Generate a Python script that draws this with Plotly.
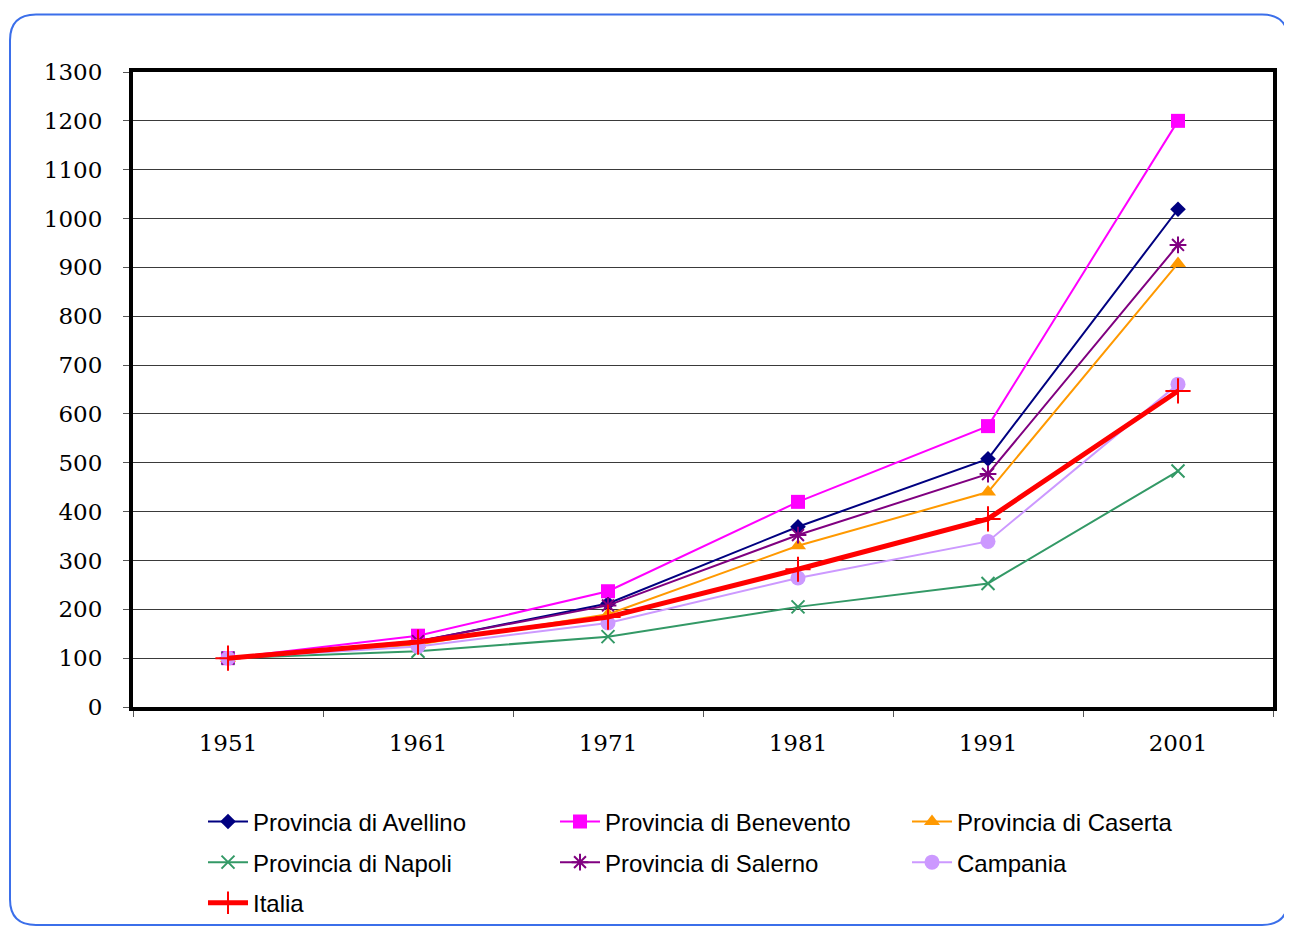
import plotly.graph_objects as go

years = ["1951", "1961", "1971", "1981", "1991", "2001"]
avellino = [100, 134, 212, 369, 508, 1019]
benevento = [100, 146, 237, 420, 575, 1200]
caserta = [100, 128, 190, 330, 440, 908]
napoli = [100, 114, 144, 205, 253, 483]
salerno = [100, 135, 208, 352, 477, 946]
campania = [100, 124, 172, 264, 339, 661]
italia = [100, 133, 184, 282, 385, 647]
y_ticks = list(range(0, 1301, 100))

series = [
    ("Provincia di Avellino", avellino, "#000080", "diamond", 12, 2, "legend"),
    ("Provincia di Benevento", benevento, "#FF00FF", "square", 14, 2, "legend"),
    ("Provincia di Caserta", caserta, "#FF9900", "triangle-up", 14, 2, "legend"),
    ("Provincia di Napoli", napoli, "#339966", "x-thin", 13, 2, "legend2"),
    ("Provincia di Salerno", salerno, "#800080", "asterisk", 14, 2, "legend2"),
    ("Campania", campania, "#CC99FF", "circle", 15, 2, "legend2"),
    ("Italia", italia, "#FF0000", "cross-thin", 18, 5, "legend3"),
]

fig = go.Figure()
for name, vals, color, sym, size, lw, leg in series:
    thin = sym.endswith("-thin") or sym == "asterisk"
    fig.add_trace(go.Scatter(
        x=years, y=vals, name=name, mode="lines+markers",
        line=dict(color=color, width=lw),
        marker=dict(symbol=sym, size=size, color=color,
                    line=dict(color=color, width=2 if thin else 0)),
        legend=leg,
    ))

OFF = 8  # page body margin
W, H = 1292 - OFF, 937 - OFF
# plot area in reference screenshot pixels: x 133..1273, y 72..713
L, T = 133 - OFF, 72 - OFF
R = W - (1273 - OFF)
B = H - (713 - OFF)
pw, ph = W - L - R, H - T - B

def px(x):
    return (x - OFF - L) / pw

def py(y):
    return (H - B - (y - OFF)) / ph

# rounded outer border (paper coords), given in reference pixels
x0, x1, y0, y1, r = 10, 1288, 14, 933, 26
path = (f"M {px(x0)},{py(y0 + r)} "
        f"Q {px(x0)},{py(y0)} {px(x0 + r)},{py(y0)} "
        f"L {px(x1 - r)},{py(y0)} "
        f"Q {px(x1)},{py(y0)} {px(x1)},{py(y0 + r)} "
        f"L {px(x1)},{py(y1 - r)} "
        f"Q {px(x1)},{py(y1)} {px(x1 - r)},{py(y1)} "
        f"L {px(x0 + r)},{py(y1)} "
        f"Q {px(x0)},{py(y1)} {px(x0)},{py(y1 - r)} Z")

legend_common = dict(
    orientation="h", xanchor="left", yanchor="middle",
    font=dict(family="Liberation Sans, Arial, sans-serif", size=24, color="#000"),
    entrywidth=297, entrywidthmode="pixels", bgcolor="rgba(0,0,0,0)",
    itemwidth=40, traceorder="normal",
)

fig.update_layout(
    width=W, height=H,
    margin=dict(l=L, r=R, t=T, b=B),
    paper_bgcolor="white", plot_bgcolor="white",
    showlegend=True,
    legend=dict(x=px(203), y=py(829), **legend_common),
    legend2=dict(x=px(203), y=py(870), **legend_common),
    legend3=dict(x=px(203), y=py(911), **legend_common),
    shapes=[dict(type="path", xref="paper", yref="paper", path=path,
                 line=dict(color="#3B6FEA", width=2), fillcolor="rgba(0,0,0,0)",
                 layer="below")],
    xaxis=dict(
        type="category", range=[-0.5, 5.5], tickson="boundaries",
        ticks="outside", ticklen=6, tickcolor="#555", tickwidth=1,
        showline=True, linecolor="black", linewidth=4, mirror=True,
        showgrid=False, zeroline=False,
        tickfont=dict(family="DejaVu Serif, serif", size=23, color="#000"),
        ticklabelstandoff=12,
    ),
    yaxis=dict(
        range=[0, 1300], tickvals=y_ticks, ticktext=[str(v) for v in y_ticks],
        ticks="outside", ticklen=6, tickcolor="#555", tickwidth=1,
        showline=True, linecolor="black", linewidth=4, mirror=True,
        showgrid=True, gridcolor="#3a3a3a", gridwidth=1, zeroline=False,
        tickfont=dict(family="DejaVu Serif, serif", size=23, color="#000"),
        ticklabelstandoff=16,
    ),
)

fig.write_html("out.html")
